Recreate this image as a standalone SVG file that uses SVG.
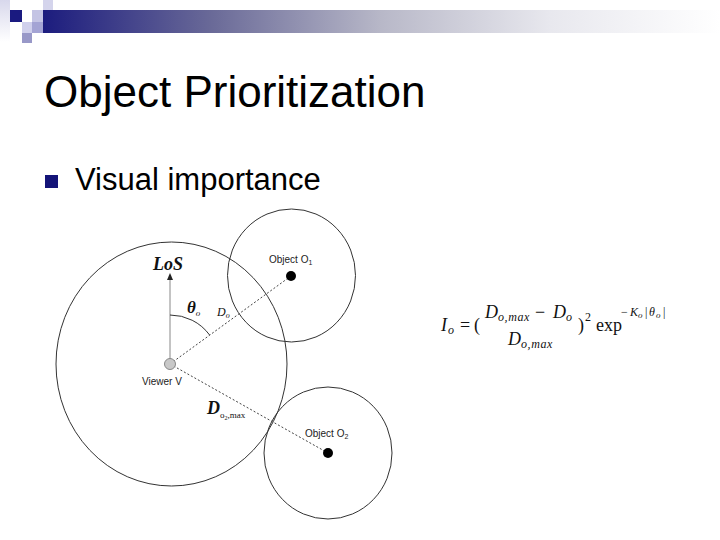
<svg xmlns="http://www.w3.org/2000/svg" width="720" height="540" viewBox="0 0 720 540">
<defs>
<linearGradient id="bar" x1="0" y1="0" x2="1" y2="0">
<stop offset="0" stop-color="#1c1c7e"/>
<stop offset="0.25" stop-color="#6a6a98"/>
<stop offset="0.5" stop-color="#b8b8c8"/>
<stop offset="0.75" stop-color="#e8e8ee"/>
<stop offset="1" stop-color="#ffffff"/>
</linearGradient>
<linearGradient id="col" x1="0" y1="0" x2="0" y2="1">
<stop offset="0" stop-color="#d8d8ec"/>
<stop offset="1" stop-color="#ffffff"/>
</linearGradient>
<style>
.ring{fill:none;stroke:#333;stroke-width:1}
.dash{stroke:#444;stroke-width:1;stroke-dasharray:2 2;fill:none}
.lbl{font-family:"Liberation Sans",Arial,sans-serif;font-size:10px;fill:#222}
.math{font-family:"Liberation Serif","Times New Roman",serif;font-style:italic;fill:#111}
.rm{font-family:"Liberation Serif","Times New Roman",serif;font-style:normal;fill:#111}
.big{font-size:18px}
.sub{font-size:12px}
.sup{font-size:12px}
.ss{font-size:9px}
</style>
</defs>
<rect width="720" height="540" fill="#fff"/>
<g id="header">
<rect x="0" y="0" width="10" height="42" fill="url(#col)"/>
<rect x="10" y="10" width="12" height="12" fill="#1a1a80"/>
<rect x="43" y="0" width="10" height="10" fill="#d4d4ec"/>
<rect x="32" y="10" width="11" height="12" fill="#c4c4e4"/>
<rect x="22" y="22" width="10" height="11" fill="#d0d0ec"/>
<rect x="32" y="22" width="11" height="11" fill="#a4a4d4"/>
<rect x="22" y="33" width="10" height="10" fill="#9898c8"/>
<rect x="43" y="10" width="677" height="23" fill="url(#bar)"/>
</g>
<g id="title">
<text x="44" y="107" font-family="'Liberation Sans',Arial,sans-serif" font-size="44" fill="#000">Object Prioritization</text>
</g>
<g id="bullet">
<rect x="45" y="175" width="13" height="13" fill="#141478"/>
<text x="75" y="190" font-family="'Liberation Sans',Arial,sans-serif" font-size="31" fill="#000">Visual importance</text>
</g>
<g id="viewer-range">
<ellipse class="ring" cx="171.5" cy="364" rx="115.5" ry="122"/>
</g>
<g id="object1-range">
<ellipse class="ring" cx="291.5" cy="275.5" rx="64" ry="66.5"/>
</g>
<g id="object2-range">
<ellipse class="ring" cx="328" cy="453" rx="64" ry="66"/>
</g>
<g id="connectors">
<path class="dash" d="M170 364 L291 276"/>
<path class="dash" d="M170 364 L328 453"/>
<path d="M170 359 L170 279" stroke="#888" stroke-width="1"/>
<polygon points="170,273 167,280 173,280" fill="#222"/>
<path d="M170 315 A49 49 0 0 1 209.6 335" fill="none" stroke="#333" stroke-width="1"/>
</g>
<g id="viewer">
<circle cx="170" cy="364" r="5.5" fill="#c8c8c8" stroke="#888" stroke-width="1"/>
<text class="lbl" x="142" y="385" font-size="11">Viewer V</text>
</g>
<g id="object1">
<circle cx="291" cy="276" r="5" fill="#000"/>
<text class="lbl" x="269" y="263">Object O<tspan font-size="7" dy="2">1</tspan></text>
</g>
<g id="object2">
<circle cx="328" cy="453" r="5" fill="#000"/>
<text class="lbl" x="305" y="437">Object O<tspan font-size="7" dy="2">2</tspan></text>
</g>
<g id="labels">
<text class="math" x="153" y="270" font-size="18" font-weight="bold">LoS</text>
<text class="math" x="187" y="313" font-size="17" font-weight="bold">θ<tspan font-size="9" dy="3" font-weight="normal">o</tspan></text>
<text class="math" x="217" y="316" font-size="12">D<tspan font-size="8" dy="2">o</tspan></text>
<text class="math" x="207" y="414" font-size="18" font-weight="bold">D<tspan class="rm" font-size="9" dy="4" font-weight="normal">o</tspan><tspan class="rm" font-size="6" dy="2" font-weight="normal">2</tspan><tspan class="rm" font-size="9" dy="-2" font-weight="normal">,max</tspan></text>
</g>
<g id="formula">
<text class="math big" x="441" y="331">I</text>
<text class="math sub" x="448" y="334">o</text>
<text class="rm big" x="460" y="331">=</text>
<text class="rm big" x="474" y="331">(</text>
<text class="math big" x="485" y="318">D</text>
<text class="math sub" x="498" y="321" letter-spacing="0.6">o,max</text>
<text class="rm big" x="535" y="318">−</text>
<text class="math big" x="553" y="318">D</text>
<text class="math sub" x="566" y="321">o</text>
<text class="math big" x="508" y="345">D</text>
<text class="math sub" x="521" y="348" letter-spacing="0.6">o,max</text>
<text class="rm big" x="578" y="331">)</text>
<text class="rm sup" x="585" y="321">2</text>
<text class="rm big" x="596" y="331">exp</text>
<text class="rm sup" x="621" y="316">−</text>
<text class="math sup" x="630" y="316">K</text>
<text class="math ss" x="638" y="318">o</text>
<text class="rm sup" x="645" y="316">|</text>
<text class="math sup" x="649" y="316">θ</text>
<text class="math ss" x="656" y="318">o</text>
<text class="rm sup" x="663" y="316">|</text>
</g>
</svg>
